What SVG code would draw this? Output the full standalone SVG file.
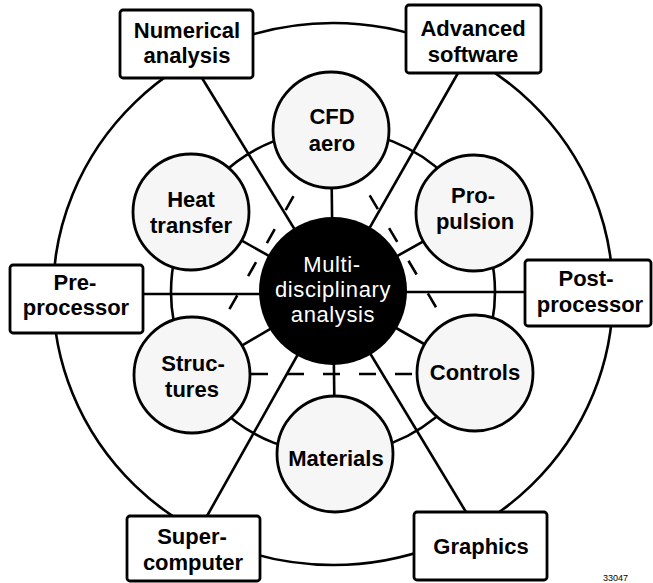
<svg xmlns="http://www.w3.org/2000/svg" width="653" height="583" viewBox="0 0 653 583">
<style>
.ln{stroke:#000;stroke-width:2.6;fill:none}
.dash{stroke:#000;stroke-width:2.6;fill:none}
.sat{fill:#f6f6f6;stroke:#000;stroke-width:2.8}
.box{fill:#fff;stroke:#000;stroke-width:2.8}
.t{font-family:"Liberation Sans",Arial,sans-serif;font-weight:bold;font-size:22px;text-anchor:middle;fill:#000}
.c{font-family:"Liberation Sans",Arial,sans-serif;font-size:22px;letter-spacing:0.6px;text-anchor:middle;fill:#fff}
.id{font-family:"Liberation Sans",Arial,sans-serif;font-size:9px;fill:#000}
</style>
<rect width="653" height="583" fill="#fff"/>
<g id="connectors">
<ellipse class="ln" cx="333" cy="294" rx="280" ry="271"/>
<line class="ln" x1="333" y1="292" x2="202" y2="78"/>
<line class="ln" x1="333" y1="292" x2="458" y2="73"/>
<line class="ln" x1="333" y1="292" x2="207" y2="516"/>
<line class="ln" x1="333" y1="292" x2="466" y2="512"/>
<line class="ln" x1="333" y1="294" x2="143" y2="294"/>
<line class="ln" x1="333" y1="292" x2="525" y2="292"/>
<circle class="ln" cx="333" cy="292" r="162"/>
<line class="ln" x1="333" y1="292" x2="331" y2="130"/>
<line class="ln" x1="333" y1="292" x2="191" y2="212"/>
<line class="ln" x1="333" y1="292" x2="474" y2="213"/>
<line class="ln" x1="333" y1="292" x2="192" y2="375"/>
<line class="ln" x1="333" y1="292" x2="475" y2="373"/>
<line class="ln" x1="333" y1="292" x2="335" y2="454"/>
<line class="dash" x1="293.5" y1="196.1" x2="221" y2="324" stroke-dasharray="16 22"/>
<line class="dash" x1="369.7" y1="195.4" x2="445.2" y2="322.7" stroke-dasharray="16 22"/>
<line class="dash" x1="251" y1="374" x2="418" y2="374" stroke-dasharray="17 19"/>
</g>
<g id="cfd"><circle class="sat" cx="331" cy="130" r="58"/><text class="t" x="332" y="124">CFD</text><text class="t" x="332" y="151">aero</text></g>
<g id="heat"><circle class="sat" cx="191" cy="212" r="58"/><text class="t" x="191" y="207">Heat</text><text class="t" x="191" y="233">transfer</text></g>
<g id="propulsion"><circle class="sat" cx="474" cy="213" r="58"/><text class="t" x="473" y="203">Pro-</text><text class="t" x="475" y="229">pulsion</text></g>
<g id="structures"><circle class="sat" cx="192" cy="375" r="58"/><text class="t" x="193" y="371">Struc-</text><text class="t" x="192" y="397">tures</text></g>
<g id="controls"><circle class="sat" cx="475" cy="373" r="58"/><text class="t" x="475" y="380">Controls</text></g>
<g id="materials"><circle class="sat" cx="335" cy="454" r="58"/><text class="t" x="336" y="466">Materials</text></g>
<g id="center"><circle cx="333" cy="291" r="74" fill="#000"/><text class="c" x="332" y="272">Multi-</text><text class="c" x="333" y="297">disciplinary</text><text class="c" x="333" y="322">analysis</text></g>
<g id="numerical"><rect class="box" x="120" y="10" width="133" height="68" rx="3"/><text class="t" x="187" y="38">Numerical</text><text class="t" x="187" y="63">analysis</text></g>
<g id="advanced"><rect class="box" x="406" y="5" width="135" height="68" rx="3"/><text class="t" x="473" y="36">Advanced</text><text class="t" x="473" y="62">software</text></g>
<g id="preprocessor"><rect class="box" x="10" y="265" width="133" height="68" rx="3"/><text class="t" x="75" y="290">Pre-</text><text class="t" x="76" y="315">processor</text></g>
<g id="postprocessor"><rect class="box" x="525" y="260" width="126" height="66" rx="3"/><text class="t" x="586" y="286">Post-</text><text class="t" x="590" y="312">processor</text></g>
<g id="supercomputer"><rect class="box" x="127" y="516" width="133" height="65" rx="3"/><text class="t" x="192" y="544">Super-</text><text class="t" x="193" y="570">computer</text></g>
<g id="graphics"><rect class="box" x="414" y="512" width="133" height="68" rx="3"/><text class="t" x="481" y="554">Graphics</text></g>
<text class="id" x="603" y="581">33047</text>
</svg>
